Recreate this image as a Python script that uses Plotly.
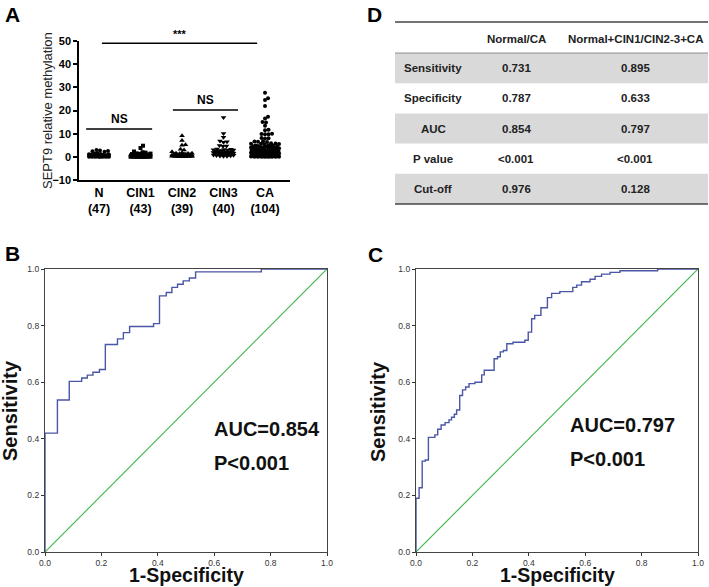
import plotly.graph_objects as go
import numpy as np

W, H = 709, 587
FONT = "Liberation Sans, Arial, sans-serif"

# ---------------- Panel A data ----------------
groups = ["N", "CIN1", "CIN2", "CIN3", "CA"]
group_n = [47, 43, 39, 40, 104]
vals_N = [3.0, 2.7, 2.5, 2.4, 2.2, 1.6, 1.3, 1.2, 1.1, 1.0,
          0.9, 0.9, 0.8, 0.8, 0.8, 0.7, 0.7, 0.7, 0.6, 0.6,
          0.6, 0.5, 0.5, 0.5, 0.4, 0.4, 0.4, 0.35, 0.3, 0.3,
          0.3, 0.25, 0.2, 0.2, 0.2, 0.15, 0.1, 0.1, 0.1, 0.05,
          0.05, 0.03, 0.02, 0.0, 0.0, 0.0, 0.0]
vals_CIN1 = [4.8, 3.8, 2.3, 2.0, 1.8, 1.5, 1.4, 1.3, 1.2, 1.1,
             1.0, 1.0, 0.9, 0.9, 0.8, 0.8, 0.7, 0.7, 0.6, 0.6,
             0.5, 0.5, 0.5, 0.4, 0.4, 0.4, 0.3, 0.3, 0.3, 0.2,
             0.2, 0.2, 0.15, 0.1, 0.1, 0.1, 0.05, 0.05, 0.03, 0.02,
             0.0, 0.0, 0.0]
vals_CIN2 = [9.1, 7.0, 5.2, 5.0, 3.3, 3.0, 2.2, 1.8, 1.6, 1.5,
             1.4, 1.3, 1.2, 1.1, 1.0, 1.0, 0.9, 0.9, 0.8, 0.8,
             0.7, 0.7, 0.6, 0.6, 0.5, 0.5, 0.4, 0.4, 0.3, 0.3,
             0.25, 0.2, 0.2, 0.15, 0.1, 0.1, 0.05, 0.02, 0.0]
vals_CIN3 = [17.0, 10.1, 8.4, 6.8, 6.5, 6.3, 4.9, 4.7, 4.6, 3.4,
             3.3, 3.2, 3.1, 3.0, 2.9, 2.7, 2.5, 2.4, 2.3, 2.2,
             2.1, 2.0, 1.9, 1.8, 1.7, 1.6, 1.5, 1.4, 1.3, 1.2,
             1.1, 1.0, 0.9, 0.8, 0.7, 0.6, 0.5, 0.4, 0.3, 0.2]
vals_CA = [27.7, 25.3, 24.5, 21.9, 17.3, 16.5, 15.0, 14.8, 13.4, 11.7,
           11.5, 10.0, 9.9, 9.8, 9.7, 8.1, 8.0, 7.9, 6.7, 6.6,
           6.5, 6.4, 5.9, 5.8, 5.7, 5.6, 5.5, 5.4, 5.0, 4.9,
           4.8, 4.7, 4.6, 4.5, 4.4, 4.3, 4.2, 4.1, 4.0, 3.9,
           3.8, 3.7, 3.6, 3.5, 3.4, 3.3, 3.2, 3.1, 3.0, 2.9,
           2.8, 2.7, 2.6, 2.5, 2.4, 2.3, 2.2, 2.1, 2.0, 1.9,
           1.8, 1.8, 1.7, 1.6, 1.5, 1.5, 1.4, 1.3, 1.2, 1.2,
           1.1, 1.0, 1.0, 0.9, 0.9, 0.8, 0.8, 0.7, 0.7, 0.6,
           0.6, 0.5, 0.5, 0.5, 0.4, 0.4, 0.3, 0.3, 0.3, 0.2,
           0.2, 0.2, 0.15, 0.1, 0.1, 0.1, 0.05, 0.05, 0.03, 0.02,
           0.0, 0.0, 0.0, 0.0]
group_values = [vals_N, vals_CIN1, vals_CIN2, vals_CIN3, vals_CA]
group_symbols = ["circle", "square", "triangle-up", "triangle-down", "circle"]
yticks_A = [-10, 0, 10, 20, 30, 40, 50]

# significance annotations (label, from, to, bar height)
sig_labels = ["***", "NS", "NS"]
sig_from = [0.07, -0.31, 1.78]
sig_to = [3.81, 1.28, 3.35]
sig_level = [49.0, 12.0, 20.2]

# ---------------- ROC data ----------------
fpr_b = [0, 0, 0.044, 0.086, 0.13, 0.15, 0.17, 0.193, 0.214, 0.257, 0.278,
         0.30, 0.385, 0.406, 0.43, 0.45, 0.47, 0.49, 0.512, 0.534, 0.767, 1.0]
tpr_b = [0, 0.42, 0.537, 0.603, 0.615, 0.625, 0.635, 0.645, 0.733, 0.753, 0.775,
         0.797, 0.807, 0.905, 0.917, 0.935, 0.946, 0.958, 0.968, 0.99, 1.0, 1.0]
fpr_c = [0, 0, 0.011, 0.022, 0.033, 0.044, 0.067, 0.077, 0.089, 0.103, 0.117,
         0.126, 0.136, 0.144, 0.155, 0.165, 0.176, 0.188, 0.209, 0.233, 0.242,
         0.277, 0.289, 0.299, 0.31, 0.322, 0.344, 0.386, 0.398, 0.41, 0.421,
         0.443, 0.466, 0.481, 0.51, 0.556, 0.57, 0.587, 0.617, 0.635, 0.658,
         0.688, 0.723, 0.857, 1.0]
tpr_c = [0, 0.19, 0.227, 0.321, 0.325, 0.405, 0.414, 0.434, 0.449, 0.457, 0.467,
         0.476, 0.487, 0.502, 0.553, 0.573, 0.583, 0.595, 0.60, 0.626, 0.642,
         0.683, 0.69, 0.707, 0.712, 0.736, 0.741, 0.748, 0.777, 0.824, 0.836,
         0.863, 0.899, 0.914, 0.92, 0.935, 0.943, 0.955, 0.964, 0.974, 0.982,
         0.988, 0.994, 1.0, 1.0]
ref_line = [0, 1]
roc_ticks = [0.0, 0.2, 0.4, 0.6, 0.8, 1.0]
auc_text = ["AUC=0.854", "AUC=0.797"]
p_text = ["P&lt;0.001", "P&lt;0.001"]

# ---------------- Table data ----------------
table_header = ["", "Normal/CA", "Normal+CIN1/CIN2-3+CA"]
row_labels = ["Sensitivity", "Specificity", "AUC", "P value", "Cut-off"]
col_normal_ca = ["0.731", "0.787", "0.854", "&lt;0.001", "0.976"]
col_combined = ["0.895", "0.633", "0.797", "&lt;0.001", "0.128"]


def px(x):
    return x / W


def py(y):
    return 1 - y / H


def text_at(fig, x, y, text, size, color="#111", angle=0, xanchor="center"):
    fig.add_annotation(x=px(x), y=py(y), xref="paper", yref="paper", text=text,
                       textangle=angle, showarrow=False, xanchor=xanchor, yanchor="middle",
                       font=dict(family=FONT, size=size, color=color))


# ---- layout geometry (pixels) ----
A_left, A_right, A_top, A_bot = 79, 290, 41, 180
xr_A = [-0.482, 4.602]
yr_A = [-10, 50]
ppx_x = (A_right - A_left) / (xr_A[1] - xr_A[0])
ppx_y = (A_bot - A_top) / (yr_A[1] - yr_A[0])


def swarm(values, d=3.3, maxw=12.0):
    order = sorted(range(len(values)), key=lambda i: values[i])
    placed = []
    offs = [0.0] * len(values)
    cands = [0.0]
    k = 1
    while k * 0.5 <= maxw:
        cands += [k * 0.5, -k * 0.5]
        k += 1
    for i in order:
        yy = values[i] * ppx_y
        best = None
        for c in cands:
            if all((c - a) ** 2 + (yy - b) ** 2 >= d * d for a, b in placed):
                best = c
                break
        if best is None:
            best = max(cands, key=lambda c: min((c - a) ** 2 + (yy - b) ** 2 for a, b in placed))
        placed.append((best, yy))
        offs[i] = best / ppx_x
    return offs


fig = go.Figure()

# Panel A scatter
for gi, (vals, sym) in enumerate(zip(group_values, group_symbols)):
    maxw = 14.0 if len(vals) > 60 else 10.0
    offs = swarm(vals, maxw=maxw)
    xs = [gi + o for o in offs]
    size = 5 if "triangle" in sym else 4.0
    fig.add_trace(go.Scatter(x=xs, y=vals, mode="markers", xaxis="x", yaxis="y",
                             marker=dict(symbol=sym, size=size, color="black", line=dict(width=0)),
                             showlegend=False, hoverinfo="y"))
    med = float(np.median(vals))
    fig.add_shape(type="line", xref="x", yref="y", x0=gi - 0.29, x1=gi + 0.29, y0=med, y1=med,
                  line=dict(color="#9a9a9a", width=1.5), layer="below")

for lab, a, b, lvl in zip(sig_labels, sig_from, sig_to, sig_level):
    fig.add_shape(type="line", xref="x", yref="y", x0=a, x1=b, y0=lvl, y1=lvl,
                  line=dict(color="black", width=1.5))
    fig.add_annotation(x=(a + b) / 2, y=lvl, xref="x", yref="y", text="<b>%s</b>" % lab,
                       showarrow=False, xanchor="center", yanchor="bottom", yshift=1,
                       font=dict(family=FONT, size=12 if lab == "NS" else 11, color="black"))

# ROC panels
for xa, ya, fx, ty in [("x2", "y2", fpr_b, tpr_b), ("x3", "y3", fpr_c, tpr_c)]:
    fig.add_trace(go.Scatter(x=ref_line, y=ref_line, mode="lines", xaxis=xa, yaxis=ya,
                             line=dict(color="#3cb54a", width=1.1), showlegend=False, hoverinfo="skip"))
    fig.add_trace(go.Scatter(x=fx, y=ty, mode="lines", line_shape="hv", xaxis=xa, yaxis=ya,
                             line=dict(color="#4a56a6", width=1.4), showlegend=False))

ticktext_A = ["<b>%s</b><br><b>(%d)</b>" % (g, n) for g, n in zip(groups, group_n)]

B_left, B_right = 45, 327
C_left, C_right = 416, 698
R_top, R_bot = 269, 552

roc_axis = dict(range=[0, 1], tickvals=roc_ticks, ticktext=["%.1f" % t for t in roc_ticks],
                ticks="outside", ticklen=3, tickwidth=1, tickcolor="#333",
                showline=True, linecolor="#444", linewidth=1.2, mirror=True,
                showgrid=False, zeroline=False, automargin=False,
                tickfont=dict(family=FONT, size=8.5, color="#333"))

fig.update_layout(
    width=W, height=H, margin=dict(l=0, r=0, t=0, b=0, pad=0, autoexpand=False),
    paper_bgcolor="white", plot_bgcolor="white",
    xaxis=dict(domain=[px(A_left), px(A_right)], range=xr_A, anchor="y", automargin=False,
               tickvals=list(range(len(groups))), ticktext=ticktext_A, ticks="",
               showline=True, linecolor="black", linewidth=1.5, showgrid=False, zeroline=False,
               tickfont=dict(family=FONT, size=12.5, color="black")),
    yaxis=dict(domain=[py(A_bot), py(A_top)], range=yr_A, anchor="x", automargin=False,
               tickvals=yticks_A, ticks="outside", ticklen=4, tickwidth=1.5, tickcolor="black",
               showline=True, linecolor="black", linewidth=1.5, showgrid=False, zeroline=False,
               tickfont=dict(family=FONT, size=11, color="black", weight="bold")),
    xaxis2=dict(domain=[px(B_left), px(B_right)], anchor="y2", **roc_axis),
    yaxis2=dict(domain=[py(R_bot), py(R_top)], anchor="x2", **roc_axis),
    xaxis3=dict(domain=[px(C_left), px(C_right)], anchor="y3", **roc_axis),
    yaxis3=dict(domain=[py(R_bot), py(R_top)], anchor="x3", **roc_axis),
)

# axis titles
text_at(fig, 47, 110, "SEPT9 relative methylation", 13, color="#222", angle=-90)
for left, right in [(B_left, B_right), (C_left, C_right)]:
    text_at(fig, (left + right) / 2, 575, "<b>1-Specificity</b>", 19.5)
text_at(fig, 10, 411, "<b>Sensitivity</b>", 20, angle=-90)
text_at(fig, 378, 411, "<b>Sensitivity</b>", 20, angle=-90)

# AUC texts
for (xl, ya, yb), at, pt in zip([(212, 429, 463), (568, 425, 459)], auc_text, p_text):
    text_at(fig, xl, ya, "<b>%s</b>" % at, 20, xanchor="left")
    text_at(fig, xl, yb, "<b>%s</b>" % pt, 20, xanchor="left")

# panel letters
for lab, (xx, yy) in zip(["A", "B", "C", "D"], [(12, 14), (12, 253), (376, 254), (375, 14)]):
    text_at(fig, xx, yy, "<b>%s</b>" % lab, 21, color="black")

# ---------------- Table D ----------------
T_left, T_right = 395, 708
T_top, T_header_line, T_bot = 22, 53, 204
row_h = (T_bot - T_header_line) / len(row_labels)
col_x = [433, 516, 635]
for i in range(len(row_labels)):
    if i % 2 == 0:
        fig.add_shape(type="rect", xref="paper", yref="paper",
                      x0=px(T_left), x1=px(T_right),
                      y0=py(T_header_line + i * row_h), y1=py(T_header_line + (i + 1) * row_h),
                      fillcolor="#d9d9d9", line=dict(width=0), layer="below")
for yline, wdt, col in [(T_top, 1.5, "#444"), (T_header_line, 0.8, "#777"), (T_bot, 1.5, "#444")]:
    fig.add_shape(type="line", xref="paper", yref="paper", x0=px(T_left), x1=px(T_right),
                  y0=py(yline), y1=py(yline), line=dict(color=col, width=wdt))

for j, h in enumerate(table_header):
    if h:
        text_at(fig, col_x[j], 39, "<b>%s</b>" % h, 11.5, color="#222")
for i, (lab, v1, v2) in enumerate(zip(row_labels, col_normal_ca, col_combined)):
    yc = T_header_line + (i + 0.5) * row_h
    for j, t in enumerate([lab, v1, v2]):
        text_at(fig, col_x[j], yc, "<b>%s</b>" % t, 11.5, color="#222")

fig.write_html("out.html", config={"displayModeBar": False},
               post_script="document.body.style.margin='0';")
